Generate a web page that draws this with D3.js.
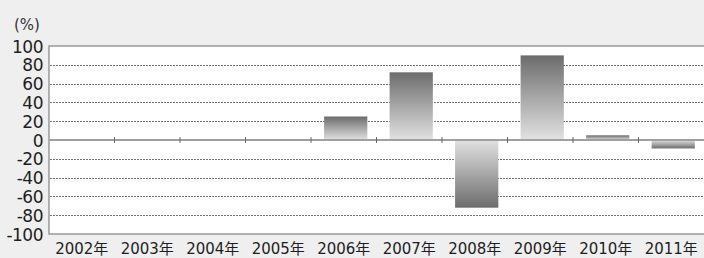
<!DOCTYPE html>
<html>
<head>
<meta charset="utf-8">
<script src="https://cdn.jsdelivr.net/npm/d3@7"></script>
<style>
  html, body { margin: 0; padding: 0; background: #efefef; }
  svg { display: block; }
  .axis text { font-family: "DejaVu Sans", "Noto Sans CJK JP", sans-serif; fill: #1e1e1e; }
</style>
</head>
<body>
<div id="chart"></div>
<script>
// data
var years = ['2002年', '2003年', '2004年', '2005年', '2006年', '2007年', '2008年', '2009年', '2010年', '2011年'];
var rates = [0, 0, 0, 0, 25, 72, -72, 90, 5, -9];
var yTicks = [100, 80, 60, 40, 20, 0, -20, -40, -60, -80, -100];

var data = years.map(function (y, i) { return { year: y, rate: rates[i] }; });

var W = 704, H = 258;
var margin = { top: 46, left: 49, bottom: 24, right: 0 };

var svg = d3.select('#chart').append('svg')
    .attr('width', W)
    .attr('height', H);

var x = d3.scaleBand()
    .domain(years)
    .range([margin.left, margin.left + 65.5 * years.length])
    .padding(0);

var y = d3.scaleLinear()
    .domain([-100, 100])
    .range([H - margin.bottom, margin.top]);

// gradients
var defs = svg.append('defs');
var gPos = defs.append('linearGradient').attr('id', 'gpos')
    .attr('x1', 0).attr('y1', 0).attr('x2', 0).attr('y2', 1);
gPos.append('stop').attr('offset', '0%').attr('stop-color', '#6c6c6c');
gPos.append('stop').attr('offset', '100%').attr('stop-color', '#e2e2e2');
var gNeg = defs.append('linearGradient').attr('id', 'gneg')
    .attr('x1', 0).attr('y1', 0).attr('x2', 0).attr('y2', 1);
gNeg.append('stop').attr('offset', '0%').attr('stop-color', '#e2e2e2');
gNeg.append('stop').attr('offset', '100%').attr('stop-color', '#6c6c6c');

// plot area
svg.append('rect')
    .attr('x', margin.left)
    .attr('y', y(100))
    .attr('width', W - margin.left + 2)
    .attr('height', y(-100) - y(100))
    .attr('fill', '#ffffff')
    .attr('stroke', '#9a9a9a')
    .attr('stroke-width', 1.5);

// grid lines
svg.selectAll('.grid')
    .data(yTicks.filter(function (d) { return d !== 100 && d !== -100 && d !== 0; }))
    .enter()
    .append('line')
    .attr('class', 'grid')
    .attr('x1', margin.left + 1)
    .attr('x2', W)
    .attr('y1', function (d) { return Math.round(y(d)) + 0.5; })
    .attr('y2', function (d) { return Math.round(y(d)) + 0.5; })
    .attr('stroke', '#707070')
    .attr('stroke-width', 1)
    .attr('stroke-dasharray', '2,1');

// bars
svg.selectAll('.bar')
    .data(data)
    .enter()
    .append('rect')
    .attr('class', 'bar')
    .attr('x', function (d) { return x(d.year) + x.bandwidth() * 0.2; })
    .attr('width', x.bandwidth() * 0.66)
    .attr('y', function (d) { return y(Math.max(0, d.rate)); })
    .attr('height', function (d) { return Math.abs(y(d.rate) - y(0)); })
    .attr('fill', function (d) { return d.rate >= 0 ? 'url(#gpos)' : 'url(#gneg)'; });

// zero line
svg.append('line')
    .attr('x1', margin.left)
    .attr('x2', W)
    .attr('y1', y(0))
    .attr('y2', y(0))
    .attr('stroke', '#a0a0a0')
    .attr('stroke-width', 2);

// category ticks on zero line
svg.selectAll('.tick-mark')
    .data(years.slice(1))
    .enter()
    .append('line')
    .attr('class', 'tick-mark')
    .attr('x1', function (d) { return x(d); })
    .attr('x2', function (d) { return x(d); })
    .attr('y1', y(0) - 3)
    .attr('y2', y(0) + 3)
    .attr('stroke', '#666')
    .attr('stroke-width', 1);

// y axis labels
var yAxis = d3.axisLeft(y)
    .tickValues(yTicks)
    .tickSize(0)
    .tickPadding(5)
    .tickFormat(function (d) { return String(d); });

svg.append('g')
    .attr('class', 'axis')
    .attr('transform', 'translate(' + (margin.left - 1) + ',0)')
    .call(yAxis)
    .call(function (g) { g.select('.domain').remove(); })
    .selectAll('text')
    .style('font-size', '17px')
    .style('letter-spacing', '-0.5px')
    .attr('dy', '0.36em');

// x axis labels
var xAxis = d3.axisBottom(x)
    .tickSize(0)
    .tickPadding(0);

svg.append('g')
    .attr('class', 'axis')
    .attr('transform', 'translate(0,' + 243 + ')')
    .call(xAxis)
    .call(function (g) { g.select('.domain').remove(); })
    .selectAll('text')
    .style('font-size', '15px')
    .attr('dy', '0.72em');

// unit label
svg.append('text')
    .attr('x', 14)
    .attr('y', 30)
    .style('font-family', '"DejaVu Sans", sans-serif')
    .style('font-size', '15px')
    .style('fill', '#333')
    .text('(%)');
</script>
</body>
</html>
